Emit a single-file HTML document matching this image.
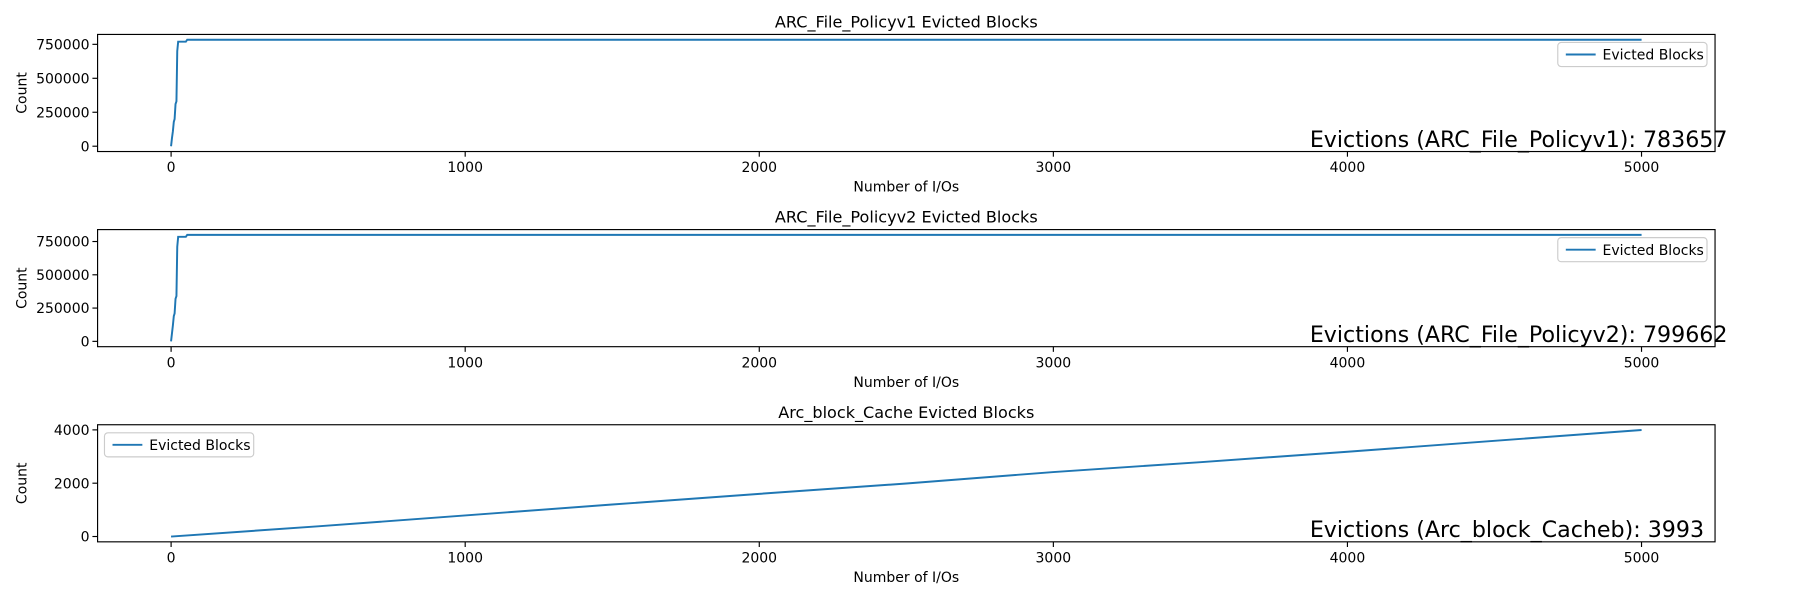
<!DOCTYPE html>
<html><head><meta charset="utf-8"><style>
html,body{margin:0;padding:0;background:#fff;}
svg{display:block;font-family:"DejaVu Sans","Liberation Sans",sans-serif;}
</style></head><body>
<svg id="chart" width="1800" height="600" viewBox="0 0 1568 522.67" xmlns="http://www.w3.org/2000/svg"></svg>
<script>
const xTicks = [0,1000,2000,3000,4000,5000];
const titles = ["ARC_File_Policyv1 Evicted Blocks","ARC_File_Policyv2 Evicted Blocks","Arc_block_Cache Evicted Blocks"];
const annotations = ["Evictions (ARC_File_Policyv1): 783657","Evictions (ARC_File_Policyv2): 799662","Evictions (Arc_block_Cacheb): 3993"];
const yTicks1 = [0,250000,500000,750000];
const yTicks2 = [0,250000,500000,750000];
const yTicks3 = [0,2000,4000];
const s1x = [0,3,6,9,12,15,18,21,24,30,50,55,5000];
const s1y = [0,60000,110000,180000,200000,310000,330000,700000,770000,770000,770000,783657,783657];
const s2x = [0,3,6,9,12,15,18,21,24,30,50,55,5000];
const s2y = [0,60000,120000,190000,210000,320000,340000,710000,785000,785000,785000,799662,799662];
const s3x = [0,500,1000,1500,2000,2500,3000,3500,4000,4500,5000];
const s3y = [0,380,790,1200,1600,1990,2420,2790,3180,3590,3993];

const svg = document.getElementById('chart');
const NS = "http://www.w3.org/2000/svg";
function mk(tag, attrs, parent){const e=document.createElementNS(NS,tag);for(const k in attrs)e.setAttribute(k,attrs[k]);(parent||svg).appendChild(e);return e;}

const L=85, R=1494;
const tops=[30,200,370], H=102;
const series=[[s1x,s1y,yTicks1],[s2x,s2y,yTicks2],[s3x,s3y,yTicks3]];
const xmin=-250, xmax=5250;
function xs(v){return L+(v-xmin)/(xmax-xmin)*(R-L);}

series.forEach(([sx,sy,yt],i)=>{
  const top=tops[i], bot=top+H;
  const ymaxD=Math.max(...sy), yminD=Math.min(...sy);
  const pad=(ymaxD-yminD)*0.05;
  const y0=yminD-pad, y1=ymaxD+pad;
  const ys=v=>bot-(v-y0)/(y1-y0)*H;
  const g=mk('g',{});
  
  
  const t=mk('text',{x:(L+R)/2,y:top-6,'text-anchor':'middle','font-size':14,fill:'#000'},g);
  t.textContent=titles[i];
  
  
  let d='';
  sx.forEach((x,j)=>{d+=(j?'L':'M')+xs(x).toFixed(1)+','+ys(sy[j]).toFixed(1);});
  const p=mk('path',{d:d,fill:'none',stroke:'#1f77b4','stroke-width':1.7},g);
  
  
  mk('rect',{x:L,y:top,width:R-L,height:H,fill:'none',stroke:'#000','stroke-width':1},g);
  xTicks.forEach(v=>{
    const x=xs(v);
    mk('line',{x1:x,x2:x,y1:bot,y2:bot+4.5,stroke:'#000'},g);
    const tt=mk('text',{x:x,y:bot+18,'text-anchor':'middle','font-size':12.2},g);
    tt.textContent=v;
    
    
  });
  yt.forEach(v=>{
    const y=ys(v);
    mk('line',{x1:L,x2:L-4.5,y1:y,y2:y,stroke:'#000'},g);
    const tt=mk('text',{x:L-7,y:y+4.5,'text-anchor':'end','font-size':12.2},g);
    tt.textContent=v;
    
    
  });
  const xl=mk('text',{x:(L+R)/2,y:bot+35,'text-anchor':'middle','font-size':12.2},g);
  xl.textContent='Number of I/Os';
  
  
  const yl=mk('text',{x:0,y:0,'text-anchor':'middle','font-size':12.2,transform:`translate(23,${top+H/2}) rotate(-90)`},g);
  yl.textContent='Count';
  
  
  const an=mk('text',{x:1141,y:bot-4,'font-size':19.3},g);
  an.textContent=annotations[i];
  
  
  const lx = i<2 ? 1357 : 91, ly = top+7;
  const lg=mk('g',{},g);
  
  
  mk('rect',{x:lx,y:ly,width:130,height:21,rx:3,fill:'#fff','fill-opacity':0.9,stroke:'#ccc'},lg);
  mk('line',{x1:lx+7,x2:lx+33,y1:ly+10.5,y2:ly+10.5,stroke:'#1f77b4','stroke-width':1.7},lg);
  const lt=mk('text',{x:lx+39,y:ly+15,'font-size':12.2},lg);
  lt.textContent='Evicted Blocks';
});
</script>
</body></html>
